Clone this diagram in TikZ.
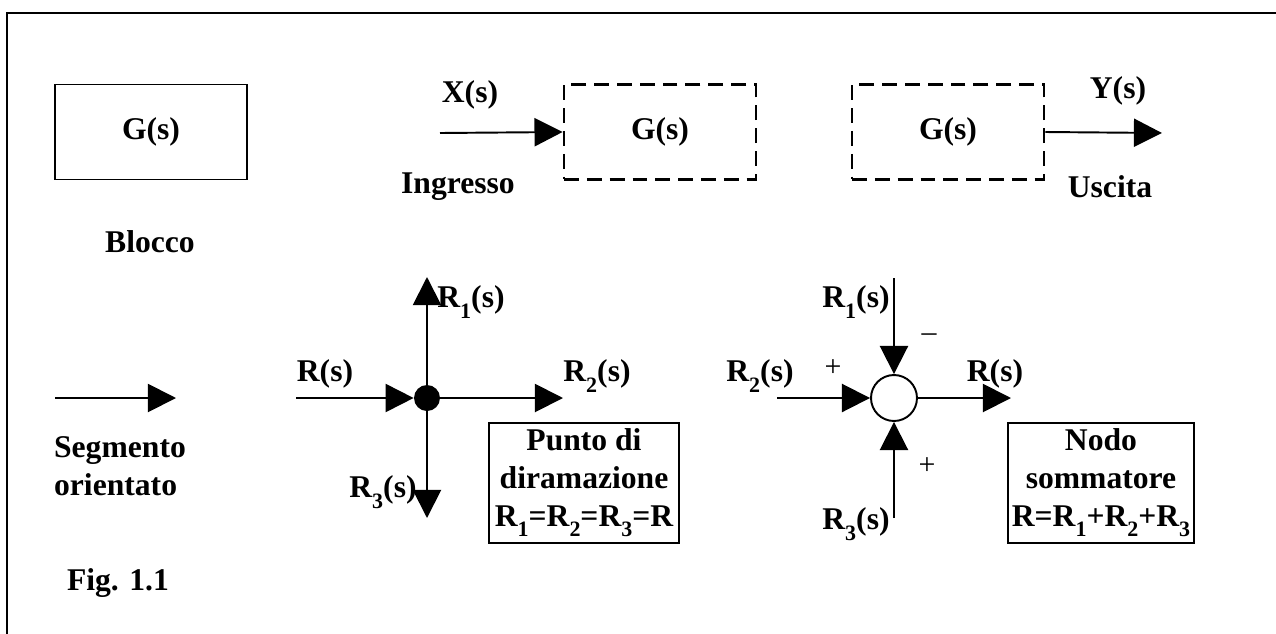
\documentclass[tikz,border=0pt]{standalone}
\usepackage{fontspec}
\setmainfont{Liberation Serif}
\usetikzlibrary{arrows.meta,positioning}
\newcommand\rsub[1]{\raisebox{-6pt}{\fontsize{12.5}{12}\selectfont #1}}

\begin{document}
\begin{tikzpicture}[x=0.02cm, y=-0.02cm,
  lbl/.style={font=\fontsize{18}{21.5}\selectfont\bfseries, inner sep=1pt},
  sgn/.style={font=\fontsize{17}{17}\selectfont, inner sep=1pt},
  blk/.style={rectangle, draw, line width=1.1pt, minimum width=3.84cm,
              minimum height=1.9cm, font=\fontsize{18}{21.5}\selectfont\bfseries},
  dblk/.style={blk, line width=1.6pt, dash pattern=on 8.5pt off 4.5pt},
  legend/.style={rectangle, draw, line width=1.2pt, align=center, inner sep=2pt,
                 font=\fontsize{18}{21.5}\selectfont\bfseries},
  dot/.style={circle, fill=black, inner sep=0pt, minimum size=0.52cm},
  sumnode/.style={circle, draw, line width=1.1pt, inner sep=0pt, minimum size=0.92cm},
  arr/.style={-{Triangle[length=16pt,width=16pt]}, line width=1.1pt}
]
  \useasboundingbox (0,0) rectangle (1276,633);
  % frame
  \draw[line width=1.6pt] (7,640) -- (7,13) -- (1285,13);

  % blocks
  \node[blk]  (blocco) at (151,132) {G(s)};
  \node[lbl]  (tblocco) at (150,242) {Blocco};
  \node[dblk] (gin)  at (660,132) {G(s)};
  \node[dblk] (gout) at (948,132) {G(s)};
  \coordinate (xin)  at (440,133);
  \coordinate (yout) at (1162,133);
  \draw[arr] (xin) -- (gin.west);
  \draw[arr] (gout.east) -- (yout);
  \node[lbl] (tx)   at (470,95)  {X(s)};
  \node[lbl] (tin)  at (458,187) {Ingresso};
  \node[lbl] (ty)   at (1118,91) {Y(s)};
  \node[lbl] (tout) at (1110,187) {Uscita};

  % segmento orientato
  \coordinate (sega) at (55,398);
  \coordinate (segb) at (176,398);
  \draw[arr] (sega) -- (segb);
  \node[lbl, align=left] (tseg) at (120,466) {Segmento\\orientato};
  \node[lbl] (tfig) at (118,583) {Fig. 1.1};

  % punto di diramazione
  \node[dot] (bp) at (427,398) {};
  \coordinate (bpin)  at (296,398);
  \coordinate (bpup)  at (427,277);
  \coordinate (bpdn)  at (427,518);
  \coordinate (bprt)  at (563,398);
  \draw[arr] (bpin) -- (bp.west);
  \draw[arr] (bp) -- (bpup);
  \draw[arr] (bp) -- (bprt);
  \draw[arr] (bp) -- (bpdn);
  \node[lbl] (tr)  at (325,374) {R(s)};
  \node[lbl] (tr1) at (471,302) {R\rsub{1}(s)};
  \node[lbl] (tr2) at (597,376) {R\rsub{2}(s)};
  \node[lbl] (tr3) at (383,492) {R\rsub{3}(s)};
  \node[legend, minimum width=3.8cm, minimum height=2.4cm] (tbp) at (584,483)
    {Punto di\\diramazione\\R\rsub{1}=R\rsub{2}=R\rsub{3}=R};

  % nodo sommatore
  \node[sumnode] (sn) at (894,398) {};
  \coordinate (snup) at (894,278);
  \coordinate (snlt) at (777,398);
  \coordinate (sndn) at (894,518);
  \coordinate (snrt) at (1011,398);
  \draw[arr] (snup) -- (sn.north);
  \draw[arr] (snlt) -- (sn.west);
  \draw[arr] (sndn) -- (sn.south);
  \draw[arr] (sn.east) -- (snrt);
  \node[lbl] (ts1) at (856,302) {R\rsub{1}(s)};
  \node[lbl] (ts2) at (760,376) {R\rsub{2}(s)};
  \node[lbl] (ts3) at (856,524) {R\rsub{3}(s)};
  \node[lbl] (tso) at (995,374) {R(s)};
  \node[sgn] (m1) at (929,338) {--};
  \node[sgn] (p2) at (833,368) {+};
  \node[sgn] (p3) at (927,466) {+};
  \node[legend, minimum width=3.66cm, minimum height=2.4cm] (tsn) at (1101,483)
    {Nodo\\sommatore\\R=R\rsub{1}+R\rsub{2}+R\rsub{3}};
\end{tikzpicture}
\end{document}
